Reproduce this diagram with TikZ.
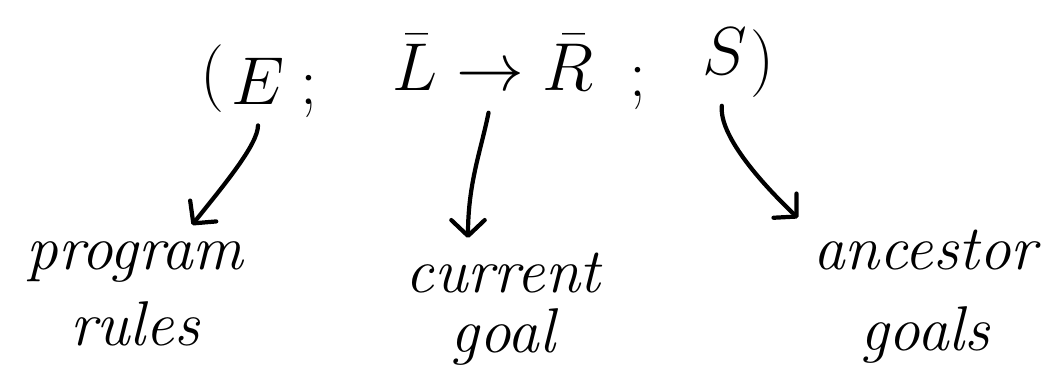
\documentclass[tikz,border=0pt]{standalone}
\usepackage{graphicx}
\usepackage{tikz}
\usetikzlibrary{arrows.meta, positioning}
\usepackage{amsmath}
\definecolor{ink}{RGB}{0,0,0}

\newcommand{\bigsym}[1]{\scalebox{1.55}{$#1$}}

\tikzset{
  sym/.style={text=ink, inner sep=0pt, anchor=base, font=\fontsize{24.88}{30}\selectfont},
  word/.style={text=ink, inner sep=0pt, anchor=base, align=center,
               font=\fontsize{36}{43}\selectfont\itshape},
  pointer/.style={draw=ink, line width=2.4pt, line cap=round, line join=round,
                  -{Straight Barb[length=9pt, width=19pt, line cap=round, line join=round]}}
}

\begin{document}
\begin{tikzpicture}[x=0.02cm, y=-0.02cm]
  \useasboundingbox (0,0) rectangle (1062,380);

  % the triple
  \node[sym] (lpar) at (212,95) {\bigsym{(}};
  \node[sym] (E)    at (258,104) {\bigsym{E}};
  \node[sym] (semA) at (309,104) {\bigsym{;}};
  \node[sym] (cur)  at (493,90) {\bigsym{\bar{L}\to\bar{R}}};
  \node[sym] (semB) at (638,96) {\bigsym{;}};
  \node[sym] (S)    at (725,74) {\bigsym{S}};
  \node[sym] (rpar) at (762,80) {\bigsym{)}};

  % what each part stands for
  \node[word] (prog) at (135,345) {program\\rules};
  \node[word] (goal) at (503,352) {current\\[-9pt]goal};
  \node[word] (anc)  at (925,350) {ancestor\\[3pt]goals};

  \coordinate (progtip) at (192,225);
  \coordinate (goaltip) at (468,238);
  \coordinate (anctip)  at (798,218);

  \draw[pointer, shorten <=12pt] (E.south) .. controls +(0,40) and +(32,-40) .. (progtip);
  \draw[pointer, shorten <=13pt] (cur.south) .. controls +(-12,60) and +(0,-55) .. (goaltip);
  \draw[pointer, shorten <=18pt] (S.south) .. controls +(-6,60) and +(-40,-38) .. (anctip);
\end{tikzpicture}
\end{document}
